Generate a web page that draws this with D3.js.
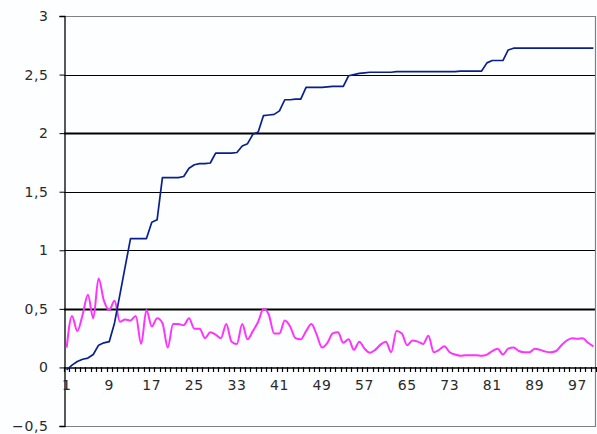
<!DOCTYPE html>
<html>
<head>
<meta charset="utf-8">
<script src="https://cdn.jsdelivr.net/npm/d3@7/dist/d3.min.js"></script>
<style>
  html, body { margin: 0; padding: 0; background: #fcfeff; }
  svg { display: block; }
  text { font-family: "DejaVu Sans", Verdana, sans-serif; }
</style>
</head>
<body>
<svg id="chart" width="597" height="434"></svg>
<script>
// ---- data ----
const categories = d3.range(1, 101);
const yTicks = [-0.5, 0, 0.5, 1, 1.5, 2, 2.5, 3];
const xTickLabels = [1, 9, 17, 25, 33, 41, 49, 57, 65, 73, 81, 89, 97];

const blueSeries = [
  -0.02, 0.02, 0.05, 0.07, 0.08, 0.11, 0.19, 0.21, 0.22, 0.38,
  0.62, 0.86, 1.10, 1.10, 1.10, 1.10, 1.24, 1.26, 1.62, 1.62,
  1.62, 1.62, 1.63, 1.70, 1.73, 1.74, 1.74, 1.745, 1.83, 1.83,
  1.83, 1.83, 1.835, 1.89, 1.91, 1.99, 2.01, 2.15, 2.155, 2.16,
  2.19, 2.285, 2.285, 2.29, 2.29, 2.39, 2.39, 2.39, 2.39, 2.395,
  2.40, 2.40, 2.40, 2.49, 2.50, 2.51, 2.515, 2.52, 2.52, 2.52,
  2.52, 2.52, 2.525, 2.525, 2.525, 2.525, 2.525, 2.525, 2.525, 2.525,
  2.525, 2.525, 2.525, 2.525, 2.53, 2.53, 2.53, 2.53, 2.53, 2.60,
  2.62, 2.62, 2.62, 2.71, 2.725, 2.725, 2.725, 2.725, 2.725, 2.725,
  2.725, 2.725, 2.725, 2.725, 2.725, 2.725, 2.725, 2.725, 2.725, 2.725
];

const pinkSeries = [
  0.17, 0.44, 0.31, 0.45, 0.62, 0.42, 0.76, 0.57, 0.49, 0.57,
  0.39, 0.41, 0.40, 0.44, 0.20, 0.49, 0.35, 0.42, 0.38, 0.17,
  0.37, 0.37, 0.36, 0.42, 0.33, 0.33, 0.25, 0.30, 0.28, 0.25,
  0.37, 0.22, 0.20, 0.37, 0.24, 0.31, 0.39, 0.50, 0.45, 0.29,
  0.29, 0.40, 0.35, 0.25, 0.24, 0.31, 0.37, 0.28, 0.17, 0.21,
  0.29, 0.30, 0.21, 0.24, 0.15, 0.22, 0.16, 0.125, 0.15, 0.195,
  0.22, 0.13, 0.31, 0.29, 0.19, 0.23, 0.22, 0.20, 0.27, 0.13,
  0.15, 0.18, 0.13, 0.11, 0.10, 0.105, 0.105, 0.105, 0.10, 0.11,
  0.14, 0.16, 0.11, 0.16, 0.17, 0.14, 0.13, 0.13, 0.16, 0.15,
  0.135, 0.13, 0.14, 0.19, 0.23, 0.25, 0.245, 0.25, 0.21, 0.18
];

(function () {
  const svg = d3.select("#chart");
  const mLeft = 64, mRight = 596, mTop = 16, mBottom = 426;

  const x = d3.scaleBand().domain(categories).range([mLeft, mRight]).paddingInner(0).paddingOuter(0);
  const xc = d => x(d) + x.bandwidth() / 2;
  const y = d3.scaleLinear().domain([-0.5, 3]).range([mBottom, mTop]);

  svg.append("rect").attr("x", 0).attr("y", 0).attr("width", 597).attr("height", 434).attr("fill", "#fcfeff");

  // gridlines
  const gridVals = [0.5, 1, 1.5, 2, 2.5];
  svg.append("g").selectAll("line").data(gridVals).join("line")
    .attr("x1", mLeft).attr("x2", mRight)
    .attr("y1", d => Math.round(y(d)) + 0.5).attr("y2", d => Math.round(y(d)) + 0.5)
    .attr("stroke", "#000")
    .attr("stroke-width", d => (d === 2 || d === 0.5) ? 2 : 1);

  // plot border (top, right, bottom)
  svg.append("path")
    .attr("d", `M${mLeft},${Math.round(y(3)) + 0.5}H${mRight - 0.5}V${Math.round(y(-0.5)) + 0.5}H${mLeft}`)
    .attr("fill", "none").attr("stroke", "#808080").attr("stroke-width", 1.2);

  // y axis
  const yAxis = d3.axisLeft(y).tickValues(yTicks).tickSize(5).tickPadding(11)
    .tickFormat(d => d3.format("")(d).replace(".", ","));
  const gy = svg.append("g").attr("transform", `translate(${mLeft + 0.5},0)`).call(yAxis);
  gy.select(".domain").attr("stroke", "#000").attr("stroke-width", 1.3);
  gy.selectAll(".tick line").attr("stroke", "#000");
  gy.selectAll(".tick text").attr("font-size", 14).attr("fill", "#2a2a2a").attr("letter-spacing", "0.6px");

  // x axis at y=0
  const xAxis = d3.axisBottom(x).tickValues(xTickLabels).tickSize(0).tickPadding(13);
  const gx = svg.append("g").attr("transform", `translate(0,${Math.round(y(0)) + 0.5})`).call(xAxis);
  gx.select(".domain").attr("stroke", "#000").attr("stroke-width", 1.3);
  gx.selectAll(".tick text").attr("font-size", 14).attr("fill", "#2a2a2a").attr("letter-spacing", "0.6px");

  // category boundary ticks
  const boundaries = categories.map(c => x(c)).concat([mRight]);
  svg.append("g").selectAll("line").data(boundaries).join("line")
    .attr("x1", d => Math.round(d) + 0.5).attr("x2", d => Math.round(d) + 0.5)
    .attr("y1", Math.round(y(0))).attr("y2", Math.round(y(0)) + 5)
    .attr("stroke", "#000").attr("stroke-width", 1.2);

  // lines
  const pinkLine = d3.line().x((d, i) => xc(categories[i])).y(d => y(d)).curve(d3.curveMonotoneX);
  svg.append("path").datum(pinkSeries).attr("d", pinkLine)
    .attr("fill", "none").attr("stroke", "#ff33ff").attr("stroke-width", 2).attr("stroke-linejoin", "round");

  const blueLine = d3.line().x((d, i) => xc(categories[i])).y(d => y(d)).curve(d3.curveLinear);
  svg.append("path").datum(blueSeries).attr("d", blueLine)
    .attr("fill", "none").attr("stroke", "#0a1f8f").attr("stroke-width", 1.7).attr("stroke-linejoin", "round");
})();
</script>
</body>
</html>
